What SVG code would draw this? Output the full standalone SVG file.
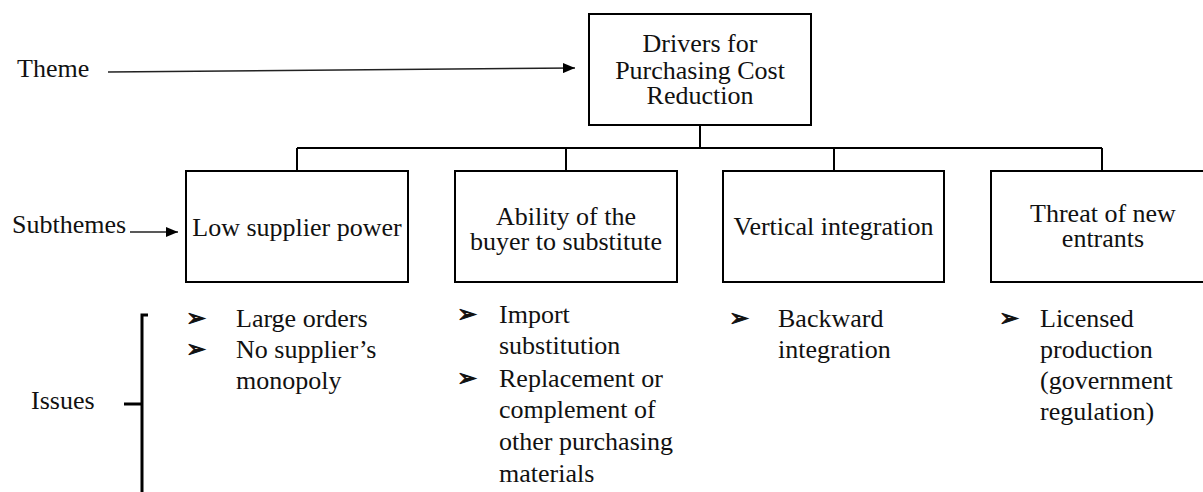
<svg xmlns="http://www.w3.org/2000/svg" width="1203" height="492" viewBox="0 0 1203 492">
  <defs>
    <marker id="arrowhead" viewBox="0 0 12 10" refX="12" refY="5" markerWidth="12" markerHeight="10" markerUnits="userSpaceOnUse" orient="auto">
      <path d="M0,0 L12,5 L0,10 Z" fill="#000"/>
    </marker>
    <style>
      .box { fill: #fff; stroke: #000; stroke-width: 2; }
      .link { fill: none; stroke: #000; stroke-width: 2; }
      .pointer { fill: none; stroke: #222; stroke-width: 1.6; }
      .brace { fill: none; stroke: #000; stroke-width: 3; }
      .t { font-family: "Liberation Serif", "DejaVu Serif", serif; font-size: 26px; fill: #111; }
      .mid { text-anchor: middle; }
      .bul { font-family: "DejaVu Sans", sans-serif; font-size: 24px; fill: #111; stroke: #111; stroke-width: 0.9; }
    </style>
  </defs>

  <!-- side labels -->
  <g id="labels">
    <text class="t" x="17" y="77">Theme</text>
    <text class="t" x="12" y="233">Subthemes</text>
    <text class="t" x="31" y="409">Issues</text>
    <line class="pointer" x1="108" y1="72" x2="575" y2="68" marker-end="url(#arrowhead)"/>
    <line class="pointer" x1="130" y1="232" x2="178" y2="232" marker-end="url(#arrowhead)"/>
    <path class="brace" d="M148,315 H142 V492 M124,404 H142"/>
  </g>

  <!-- tree connectors -->
  <g id="connectors">
    <path class="link" d="M700,125 V148 M297,148 H1102 M297,148 V171 M566,148 V171 M834,148 V171 M1102,148 V171"/>
  </g>

  <g id="theme">
    <rect class="box" x="589" y="14" width="222" height="111"/>
    <text class="t mid" x="700" y="52">Drivers for</text>
    <text class="t mid" x="700" y="79">Purchasing Cost</text>
    <text class="t mid" x="700" y="104">Reduction</text>
  </g>

  <g id="sub-supplier">
    <rect class="box" x="186" y="171" width="222" height="111"/>
    <text class="t mid" x="297" y="236">Low supplier power</text>
  </g>

  <g id="sub-buyer">
    <rect class="box" x="455" y="171" width="222" height="111"/>
    <text class="t mid" x="566" y="225">Ability of the</text>
    <text class="t mid" x="566" y="250">buyer to substitute</text>
  </g>

  <g id="sub-vertical">
    <rect class="box" x="723" y="171" width="221" height="111"/>
    <text class="t mid" x="833.5" y="235">Vertical integration</text>
  </g>

  <g id="sub-entrants">
    <rect class="box" x="991" y="171" width="222" height="111"/>
    <text class="t mid" x="1103" y="222">Threat of new</text>
    <text class="t mid" x="1103" y="247">entrants</text>
  </g>

  <!-- issue lists -->
  <g id="issues-supplier">
    <text class="bul" x="186" y="326">➢</text>
    <text class="t" x="236" y="327">Large orders</text>
    <text class="bul" x="186" y="357">➢</text>
    <text class="t" x="236" y="358">No supplier’s</text>
    <text class="t" x="236" y="389">monopoly</text>
  </g>

  <g id="issues-buyer">
    <text class="bul" x="457" y="322">➢</text>
    <text class="t" x="499" y="323">Import</text>
    <text class="t" x="499" y="354">substitution</text>
    <text class="bul" x="457" y="386">➢</text>
    <text class="t" x="499" y="387">Replacement or</text>
    <text class="t" x="499" y="418">complement of</text>
    <text class="t" x="499" y="450">other purchasing</text>
    <text class="t" x="499" y="482">materials</text>
  </g>

  <g id="issues-vertical">
    <text class="bul" x="729" y="326">➢</text>
    <text class="t" x="778" y="327">Backward</text>
    <text class="t" x="778" y="358">integration</text>
  </g>

  <g id="issues-entrants">
    <text class="bul" x="999" y="326">➢</text>
    <text class="t" x="1040" y="327">Licensed</text>
    <text class="t" x="1040" y="358">production</text>
    <text class="t" x="1040" y="389">(government</text>
    <text class="t" x="1040" y="420">regulation)</text>
  </g>
</svg>
